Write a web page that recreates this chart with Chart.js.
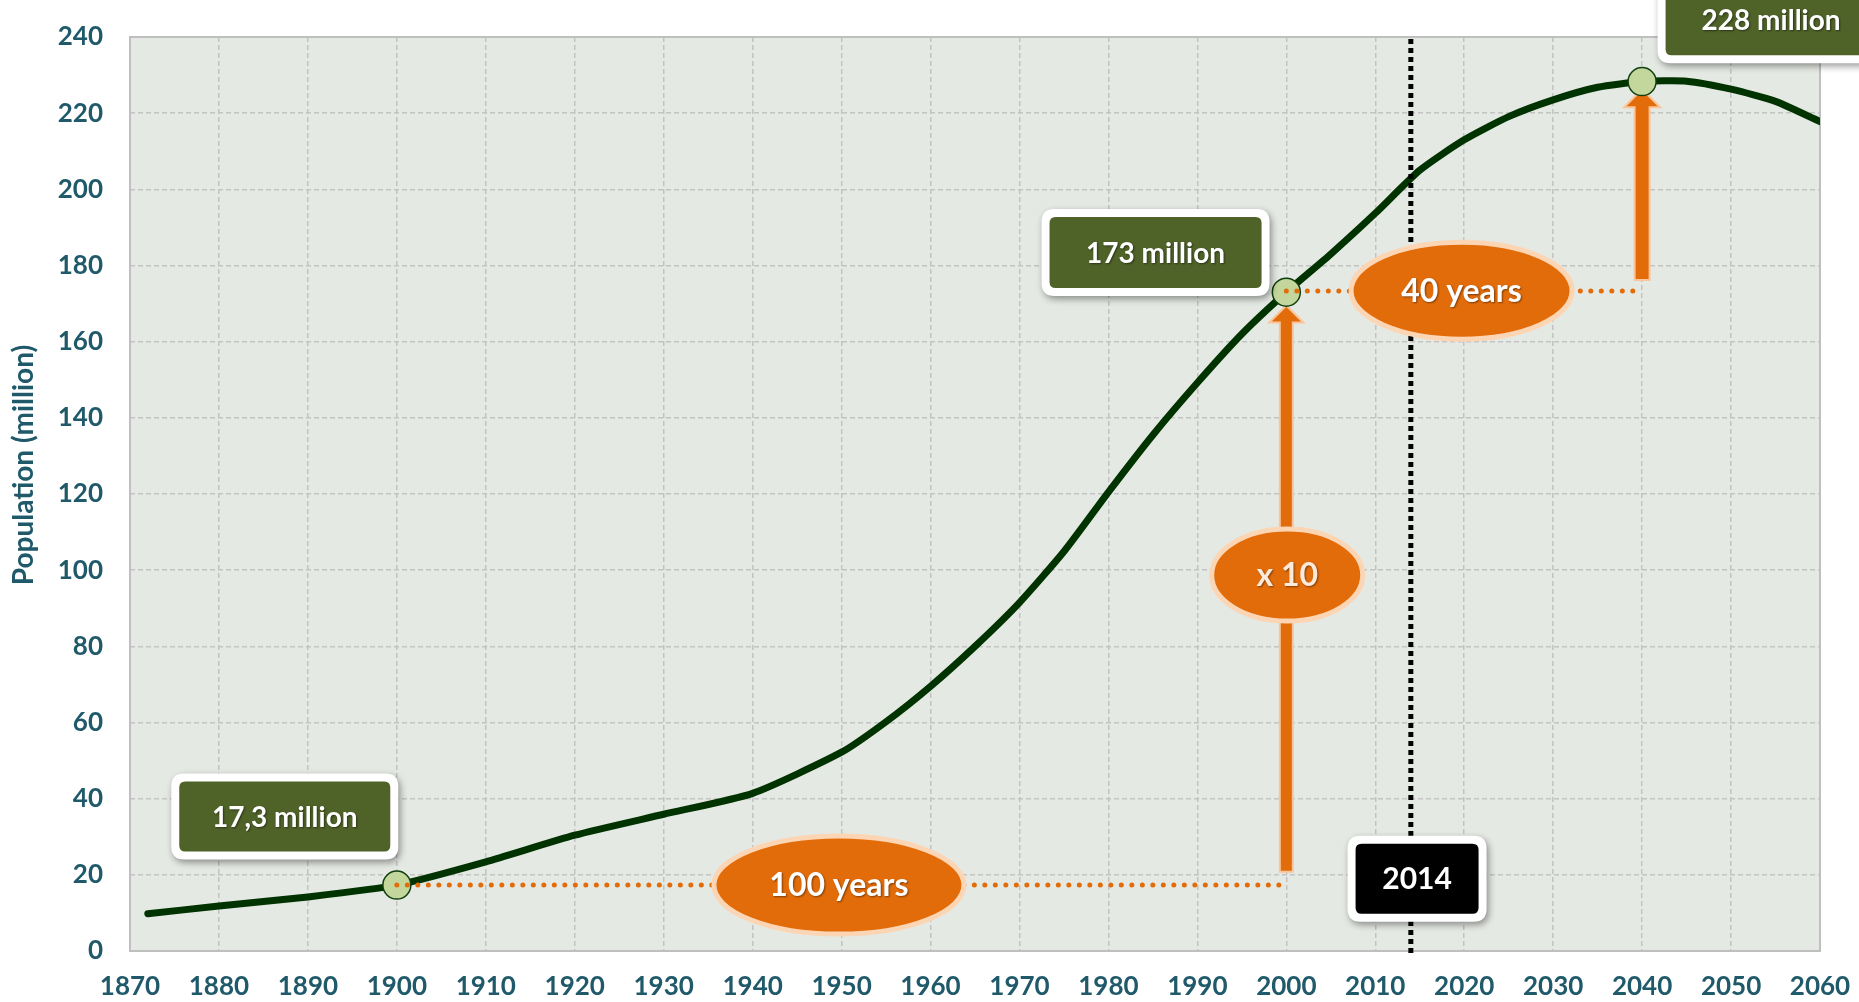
<!DOCTYPE html>
<html>
<head>
<meta charset="utf-8">
<script src="https://cdn.jsdelivr.net/npm/chart.js@4.4.1/dist/chart.umd.min.js"></script>
<style>
  html, body { margin: 0; padding: 0; background: #fff; }
</style>
</head>
<body>
<canvas id="popChart" width="1859" height="1002"></canvas>
<script>
// population curve (million)
const years = [1872, 1880, 1890, 1900, 1910, 1920, 1930, 1940, 1950, 1955, 1960, 1965, 1970, 1975, 1980, 1985, 1990, 1995, 2000, 2005, 2010, 2015, 2020, 2025, 2030, 2035, 2040, 2045, 2050, 2055, 2060];
const population = [9.8, 11.8, 14.2, 17.3, 23.4, 30.4, 35.9, 41.4, 52.2, 60.2, 69.5, 80, 91.5, 104.9, 120.5, 135.5, 149.2, 162, 173, 183, 193.7, 205, 213, 219.1, 223.5, 226.8, 228.3, 228.4, 226.3, 223.1, 217.8];

// highlighted points
const milestoneYears = [1900, 2000, 2040];
const milestoneValues = [17.3, 173, 228.3];

// annotation texts
const boxLabels = ['17,3 million', '173 million', '228 million', '2014'];
const bubbleLabels = ['100 years', '40 years', 'x 10'];
const markerYear = 2014;

const yTitle = 'Population (million)';

const TEAL = '#205a6a';
const ORANGE = '#e36c0a';
const PEACH = '#fcd5b4';
const BOX_GREEN = '#4f6228';
const FONT = 'Lato';

function roundRect(ctx, x, y, w, h, r) {
  ctx.beginPath();
  ctx.moveTo(x + r, y);
  ctx.lineTo(x + w - r, y);
  ctx.quadraticCurveTo(x + w, y, x + w, y + r);
  ctx.lineTo(x + w, y + h - r);
  ctx.quadraticCurveTo(x + w, y + h, x + w - r, y + h);
  ctx.lineTo(x + r, y + h);
  ctx.quadraticCurveTo(x, y + h, x, y + h - r);
  ctx.lineTo(x, y + r);
  ctx.quadraticCurveTo(x, y, x + r, y);
  ctx.closePath();
}

function drawBox(ctx, cx, cy, w, h, fill, text, size) {
  ctx.save();
  ctx.shadowColor = 'rgba(0,0,0,0.4)';
  ctx.shadowBlur = 7;
  ctx.shadowOffsetX = 2;
  ctx.shadowOffsetY = 3;
  ctx.fillStyle = '#fff';
  roundRect(ctx, cx - w / 2 - 8, cy - h / 2 - 8, w + 16, h + 16, 13);
  ctx.fill();
  ctx.restore();

  ctx.save();
  ctx.fillStyle = fill;
  roundRect(ctx, cx - w / 2, cy - h / 2, w, h, 6);
  ctx.fill();
  ctx.fillStyle = '#fff';
  ctx.font = 'bold ' + size + 'px ' + FONT;
  ctx.textAlign = 'center';
  ctx.textBaseline = 'middle';
  ctx.shadowColor = 'rgba(0,0,0,0.45)';
  ctx.shadowBlur = 2;
  ctx.shadowOffsetX = 1;
  ctx.shadowOffsetY = 1;
  ctx.fillText(text, cx, cy + 1);
  ctx.restore();
}

function drawBubble(ctx, cx, cy, rx, ry, text, color) {
  ctx.save();
  ctx.beginPath();
  ctx.ellipse(cx, cy, rx, ry, 0, 0, Math.PI * 2);
  ctx.fillStyle = ORANGE;
  ctx.fill();
  ctx.lineWidth = 5;
  ctx.strokeStyle = PEACH;
  ctx.stroke();
  ctx.fillStyle = color;
  ctx.font = 'bold 32px ' + FONT;
  ctx.textAlign = 'center';
  ctx.textBaseline = 'middle';
  ctx.shadowColor = 'rgba(0,0,0,0.45)';
  ctx.shadowBlur = 2;
  ctx.shadowOffsetX = 1;
  ctx.shadowOffsetY = 1;
  ctx.fillText(text, cx, cy + 1);
  ctx.restore();
}

function drawArrow(ctx, x, yBottom, yTip, shaftW, headW, headH) {
  ctx.save();
  ctx.beginPath();
  ctx.moveTo(x - shaftW / 2, yBottom);
  ctx.lineTo(x - shaftW / 2, yTip + headH);
  ctx.lineTo(x - headW / 2, yTip + headH);
  ctx.lineTo(x, yTip);
  ctx.lineTo(x + headW / 2, yTip + headH);
  ctx.lineTo(x + shaftW / 2, yTip + headH);
  ctx.lineTo(x + shaftW / 2, yBottom);
  ctx.closePath();
  ctx.fillStyle = ORANGE;
  ctx.fill();
  ctx.lineWidth = 2;
  ctx.strokeStyle = '#fbc49a';
  ctx.stroke();
  ctx.restore();
}

function dottedLine(ctx, x1, x2, y) {
  ctx.save();
  ctx.beginPath();
  ctx.setLineDash([0, 10.5]);
  ctx.lineCap = 'round';
  ctx.lineWidth = 5;
  ctx.strokeStyle = ORANGE;
  ctx.moveTo(x1, y);
  ctx.lineTo(x2, y);
  ctx.stroke();
  ctx.restore();
}

const annotations = {
  id: 'annotations',
  beforeDraw(chart) {
    const { ctx, chartArea: a } = chart;
    ctx.save();
    ctx.fillStyle = '#e5e9e3';
    ctx.fillRect(a.left, a.top, a.right - a.left, a.bottom - a.top);
    ctx.restore();
  },
  beforeDatasetsDraw(chart) {
    const { ctx, chartArea: a, scales: { x, y } } = chart;
    // plot frame
    ctx.save();
    ctx.strokeStyle = '#bfbfbf';
    ctx.lineWidth = 2;
    ctx.strokeRect(a.left, a.top, a.right - a.left, a.bottom - a.top);
    ctx.restore();
    // arrows
    drawArrow(ctx, x.getPixelForValue(2000), y.getPixelForValue(20.8), y.getPixelForValue(169.5), 13, 34, 17);
    drawArrow(ctx, x.getPixelForValue(2040), y.getPixelForValue(176.2), y.getPixelForValue(226.3), 15, 36, 18);
  },
  afterDatasetsDraw(chart) {
    const { ctx, chartArea: a, scales: { x, y } } = chart;
    // 2014 line
    ctx.save();
    ctx.beginPath();
    ctx.setLineDash([5, 4]);
    ctx.lineWidth = 5;
    ctx.strokeStyle = '#000';
    const xm = x.getPixelForValue(markerYear);
    ctx.moveTo(xm, a.top + 2);
    ctx.lineTo(xm, a.bottom + 2);
    ctx.stroke();
    ctx.restore();

    // dotted guides
    dottedLine(ctx, x.getPixelForValue(1900), x.getPixelForValue(2000), y.getPixelForValue(17.3));
    dottedLine(ctx, x.getPixelForValue(2000), x.getPixelForValue(2040), y.getPixelForValue(173.3));

    // bubbles
    drawBubble(ctx, x.getPixelForValue(1949.7), y.getPixelForValue(17.3), 125, 49, bubbleLabels[0], '#fff');
    drawBubble(ctx, x.getPixelForValue(2019.7), y.getPixelForValue(173.4), 110.5, 48.5, bubbleLabels[1], '#fff');
    drawBubble(ctx, x.getPixelForValue(2000.1), y.getPixelForValue(98.7), 75.5, 46, bubbleLabels[2], '#fdeada');

    // boxes
    drawBox(ctx, x.getPixelForValue(1887.4), y.getPixelForValue(35.3), 211, 70, BOX_GREEN, boxLabels[0], 28);
    drawBox(ctx, x.getPixelForValue(1985.3), y.getPixelForValue(183.4), 212, 71, BOX_GREEN, boxLabels[1], 28);
    drawBox(ctx, x.getPixelForValue(2054.5), y.getPixelForValue(244.4), 211, 70, BOX_GREEN, boxLabels[2], 28);
    drawBox(ctx, x.getPixelForValue(2014.7), y.getPixelForValue(19.0), 123, 70, '#000', boxLabels[3], 30);
  },
  afterDraw(chart) {
    const ctx = chart.ctx;
    ctx.save();
    ctx.translate(33, 465);
    ctx.rotate(-Math.PI / 2);
    ctx.fillStyle = TEAL;
    ctx.font = 'bold 28px ' + FONT;
    ctx.textAlign = 'center';
    ctx.textBaseline = 'alphabetic';
    ctx.fillText(yTitle, 0, 0);
    ctx.restore();
  }
};

const ctx = document.getElementById('popChart').getContext('2d');
const popChart = new Chart(ctx, {
  type: 'line',
  data: {
    datasets: [
      {
        label: 'Milestones',
        data: milestoneYears.map((yr, i) => ({ x: yr, y: milestoneValues[i] })),
        showLine: false,
        pointRadius: 14,
        pointBackgroundColor: '#c3d69b',
        pointBorderColor: '#0f3f0f',
        pointBorderWidth: 1.5,
        order: 0
      },
      {
        label: 'Population',
        data: years.map((yr, i) => ({ x: yr, y: population[i] })),
        borderColor: '#003300',
        borderWidth: 7,
        pointRadius: 0,
        tension: 0.2,
        borderJoinStyle: 'round',
        borderCapStyle: 'round',
        order: 1
      }
    ]
  },
  options: {
    responsive: false,
    animation: false,
    layout: { padding: { left: 0, top: 37, right: 39, bottom: 0 } },
    plugins: { legend: { display: false }, tooltip: { enabled: false } },
    scales: {
      x: {
        type: 'linear',
        min: 1870,
        max: 2060,
        afterFit: (scale) => {
          scale.height = 51;
          scale.paddingLeft = 0;
          scale.paddingRight = 0;
        },
        ticks: {
          stepSize: 10,
          autoSkip: false,
          maxRotation: 0,
          padding: 20,
          color: TEAL,
          font: { family: FONT, weight: 'bold', size: 26 },
          callback: (v) => String(v)
        },
        grid: { color: '#c3c3c3', lineWidth: 1.5, drawTicks: false },
        border: { display: false, dash: [5, 3] }
      },
      y: {
        min: 0,
        max: 240,
        afterFit: (scale) => {
          scale.width = 130;
          scale.paddingTop = 0;
          scale.paddingBottom = 0;
        },
        ticks: {
          stepSize: 20,
          padding: 27,
          color: TEAL,
          font: { family: FONT, weight: 'bold', size: 26 }
        },
        grid: { color: '#c3c3c3', lineWidth: 1.5, drawTicks: false },
        border: { display: false, dash: [5, 3] }
      }
    }
  },
  plugins: [annotations]
});
</script>
</body>
</html>
